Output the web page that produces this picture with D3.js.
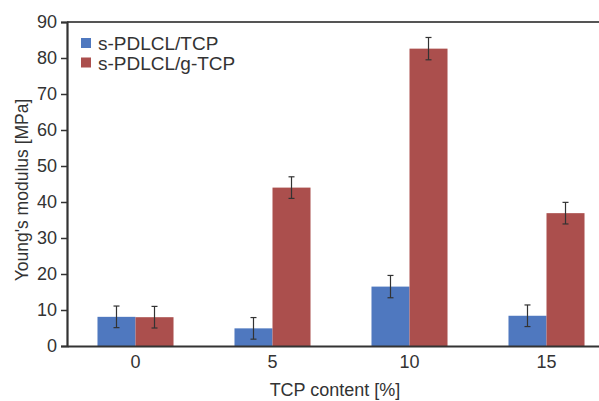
<!DOCTYPE html>
<html>
<head>
<meta charset="utf-8">
<script src="https://cdn.jsdelivr.net/npm/d3@7"></script>
<style>
  body { margin: 0; background: #fff; }
  svg { display: block; font-family: "Liberation Sans", Arial, sans-serif; }
</style>
</head>
<body>
<div id="chart"></div>
<script>
// data
const categories = ["0", "5", "10", "15"];
const seriesNames = ["s-PDLCL/TCP", "s-PDLCL/g-TCP"];
const tcpValues = [8.1, 4.9, 16.5, 8.4];
const tcpErrors = [3.0, 3.0, 3.1, 3.0];
const gtcpValues = [8.0, 44.0, 82.6, 36.9];
const gtcpErrors = [3.0, 3.0, 3.1, 3.0];
const yTicks = [0, 10, 20, 30, 40, 50, 60, 70, 80, 90];

const colors = ["#4f78bf", "#ab4f4d"];

const W = 599, H = 401;
const margin = {top: 22, right: -16, bottom: 55, left: 67};
const width = W - margin.left - margin.right;
const height = H - margin.top - margin.bottom;

const svg = d3.select("#chart").append("svg")
  .attr("width", W)
  .attr("height", H);

const g = svg.append("g")
  .attr("transform", "translate(" + margin.left + "," + margin.top + ")");

const x = d3.scaleBand()
  .domain(categories)
  .range([0, width])
  .paddingInner(0.445)
  .paddingOuter(0.2225);

const xInner = d3.scaleBand()
  .domain(seriesNames)
  .range([0, x.bandwidth()]);

const y = d3.scaleLinear()
  .domain([0, 90])
  .range([height, 0]);

const rows = categories.map((c, i) => ({
  cat: c,
  vals: [
    {name: seriesNames[0], v: tcpValues[i], e: tcpErrors[i], k: 0},
    {name: seriesNames[1], v: gtcpValues[i], e: gtcpErrors[i], k: 1}
  ]
}));

// top frame line
g.append("line")
  .attr("x1", 0).attr("x2", width)
  .attr("y1", 0).attr("y2", 0)
  .attr("stroke", "#555").attr("stroke-width", 2);

// bars
const groups = g.selectAll(".grp")
  .data(rows)
  .join("g")
  .attr("class", "grp")
  .attr("transform", d => "translate(" + x(d.cat) + ",0)");

groups.selectAll("rect")
  .data(d => d.vals)
  .join("rect")
  .attr("x", d => xInner(d.name))
  .attr("y", d => y(d.v))
  .attr("width", xInner.bandwidth())
  .attr("height", d => height - y(d.v))
  .attr("fill", d => colors[d.k]);

// error bars
const err = groups.selectAll(".err")
  .data(d => d.vals)
  .join("g")
  .attr("class", "err")
  .attr("stroke", "#333")
  .attr("stroke-width", 1.2);

err.append("line")
  .attr("x1", d => xInner(d.name) + xInner.bandwidth() / 2)
  .attr("x2", d => xInner(d.name) + xInner.bandwidth() / 2)
  .attr("y1", d => y(d.v + d.e))
  .attr("y2", d => y(d.v - d.e));

[1, -1].forEach(s => {
  err.append("line")
    .attr("x1", d => xInner(d.name) + xInner.bandwidth() / 2 - 3)
    .attr("x2", d => xInner(d.name) + xInner.bandwidth() / 2 + 3)
    .attr("y1", d => y(d.v + s * d.e))
    .attr("y2", d => y(d.v + s * d.e));
});

// axes
const yAxis = d3.axisLeft(y).tickValues(yTicks).tickSize(6).tickPadding(4);
const yg = g.append("g").call(yAxis);
yg.select(".domain").attr("stroke", "#333").attr("stroke-width", 2.2);
yg.selectAll(".tick line").attr("stroke", "#333").attr("stroke-width", 1.5);
yg.selectAll(".tick text")
  .attr("fill", "#333")
  .style("font-size", "18px");

const xAxis = d3.axisBottom(x).tickSize(0).tickPadding(9);
const xg = g.append("g")
  .attr("transform", "translate(0," + height + ")")
  .call(xAxis);
xg.select(".domain").attr("stroke", "#333").attr("stroke-width", 2.2);
xg.selectAll(".tick text")
  .attr("fill", "#333")
  .style("font-size", "18px");

// axis titles
svg.append("text")
  .attr("transform", "translate(28,190) rotate(-90)")
  .attr("text-anchor", "middle")
  .attr("fill", "#333")
  .style("font-size", "17.5px")
  .text("Young's modulus [MPa]");

svg.append("text")
  .attr("x", 335)
  .attr("y", 396)
  .attr("text-anchor", "middle")
  .attr("fill", "#333")
  .style("font-size", "18px")
  .text("TCP content [%]");

// legend
const legend = g.append("g")
  .attr("transform", "translate(14,16)");

const li = legend.selectAll("g")
  .data(seriesNames)
  .join("g")
  .attr("transform", (d, i) => "translate(0," + i * 19.5 + ")");

li.append("rect")
  .attr("width", 10).attr("height", 10)
  .attr("fill", (d, i) => colors[i]);

li.append("text")
  .attr("x", 17)
  .attr("y", 12)
  .attr("fill", "#333")
  .style("font-size", "19px")
  .text(d => d);
</script>
</body>
</html>
